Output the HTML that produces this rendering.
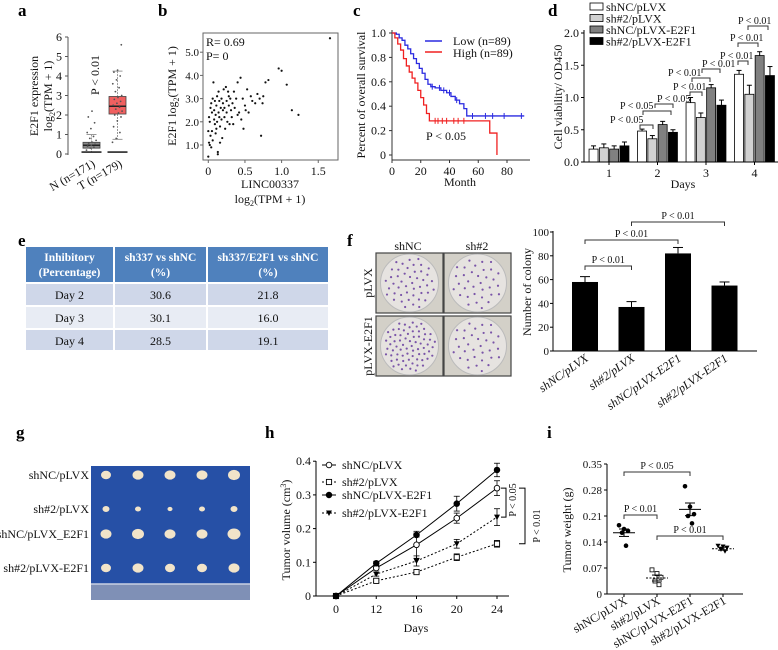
<!DOCTYPE html>
<html><head><meta charset="utf-8">
<style>
html,body{margin:0;padding:0;background:#fff;}
svg{display:block;font-family:"Liberation Serif",serif;}
.t{font-size:12px;fill:#111;}
.k{font-size:11px;fill:#111;}
.s{font-size:10px;fill:#111;}
.L{font-size:17px;font-weight:bold;fill:#000;}
</style></head>
<body>
<svg id="fig" width="778" height="650" viewBox="0 0 778 650"></svg>
<script>
// ---------- DATA ----------
const aTicks=[0,1,2,3,4,5,6];
const aNbox=[0.1,0.3,0.45,0.6,1.0];
const aTbox=[0.75,2.05,2.45,2.95,4.25];
const aNpts=[0.2,0.3,0.35,0.4,0.45,0.5,0.55,0.6,0.7,0.8,0.9,1.1,1.3,1.6,1.9,2.2];
const aTpts=[0.6,0.8,1.1,1.4,1.7,1.9,2.0,2.1,2.2,2.3,2.4,2.5,2.6,2.7,2.8,2.9,3.0,3.2,3.4,3.6,3.8,4.0,4.2,4.3,5.6];
const bTicksY=[1,2,3,4,5];
const bTicksX=[0,0.5,1.0,1.5];
const bX=[0.0,0.01,0.02,0.0,0.02,0.03,0.01,0.04,0.05,0.03,0.04,0.06,0.07,0.08,0.08,0.09,0.1,0.1,0.11,0.12,0.12,0.13,0.13,0.14,0.15,0.15,0.16,0.17,0.18,0.18,0.19,0.2,0.2,0.21,0.22,0.23,0.24,0.25,0.25,0.26,0.27,0.28,0.29,0.3,0.31,0.32,0.33,0.35,0.36,0.38,0.4,0.42,0.44,0.45,0.47,0.48,0.5,0.51,0.53,0.55,0.58,0.6,0.64,0.67,0.7,0.72,0.74,0.75,0.78,0.82,0.96,1.0,1.07,1.14,1.23,1.66,0.06,0.09,0.14,0.16,0.05,0.22,0.28,0.34,0.4,0.11];
const bY=[0.5,1.1,1.0,1.6,2.0,1.4,2.2,0.9,1.6,2.6,2.8,1.2,3.7,2.1,2.5,1.9,2.3,1.5,2.7,2.0,3.1,0.6,0.7,2.4,2.9,2.2,1.8,2.6,3.0,2.1,1.3,2.5,2.8,3.4,2.2,1.7,3.5,2.9,2.4,2.0,3.3,2.7,1.9,3.0,2.5,2.2,2.8,3.3,2.6,3.0,3.7,2.4,3.9,2.1,3.0,1.7,2.7,2.5,3.4,2.4,3.1,2.9,2.8,3.2,3.0,1.4,2.8,3.1,3.7,3.8,4.3,4.2,3.6,2.5,2.3,5.6,3.0,2.9,3.3,1.1,2.4,2.6,3.1,1.9,2.3,1.7];
const cTicksY=[0,0.2,0.4,0.6,0.8,1.0];
const cTicksX=[0,20,40,60,80];
const cLowT=[0,3,5,7,9,11,13,15,17,19,21,23,25,27,30,34,38,41,44,47,50,52,92];
const cLowS=[1,0.99,0.96,0.94,0.9,0.87,0.83,0.79,0.75,0.71,0.67,0.62,0.58,0.56,0.55,0.53,0.51,0.48,0.45,0.42,0.38,0.32,0.32];
const cHighT=[0,2,4,6,8,10,12,14,16,18,20,22,24,26,68,73];
const cHighS=[1,0.96,0.91,0.86,0.79,0.73,0.68,0.63,0.59,0.53,0.47,0.41,0.34,0.28,0.18,0];
const cLowCens=[28,33,36,40,45,56,65,70,78,90];
const cHighCens=[30,32,35,38,43,46,50];
const dDays=["1","2","3","4"];
const dSeries=["shNC/pLVX","sh#2/pLVX","shNC/pLVX-E2F1","sh#2/pLVX-E2F1"];
const dVals=[[0.2,0.48,0.92,1.36],[0.22,0.36,0.69,1.05],[0.2,0.58,1.15,1.65],[0.25,0.46,0.88,1.34]];
const dErr=[[0.05,0.03,0.08,0.06],[0.06,0.05,0.07,0.14],[0.05,0.05,0.05,0.06],[0.06,0.04,0.08,0.14]];
const dTicks=[0,0.5,1.0,1.5,2.0];
const fCats=["shNC/pLVX","sh#2/pLVX","shNC/pLVX-E2F1","sh#2/pLVX-E2F1"];
const fVals=[58,37,82,55];
const fErr=[4.5,4.5,5,3];
const fTicks=[0,20,40,60,80,100];
const hDays=["0","12","16","20","24"];
const hSeries=["shNC/pLVX","sh#2/pLVX","shNC/pLVX-E2F1","sh#2/pLVX-E2F1"];
const hVals=[[0,0.083,0.152,0.231,0.320],[0,0.045,0.071,0.115,0.155],[0,0.097,0.181,0.274,0.374],[0,0.065,0.104,0.155,0.234]];
const hErr=[[0,0.006,0.04,0.015,0.022],[0,0.005,0.006,0.01,0.01],[0,0.006,0.006,0.022,0.02],[0,0.006,0.015,0.013,0.025]];
const hTicks=[0,0.1,0.2,0.3,0.4];
const iCats=["shNC/pLVX","sh#2/pLVX","shNC/pLVX-E2F1","sh#2/pLVX-E2F1"];
const iPts=[[0.185,0.175,0.17,0.165,0.13],[0.065,0.055,0.045,0.035,0.025],[0.29,0.235,0.215,0.21,0.19],[0.13,0.128,0.125,0.12,0.115]];
const iMean=[0.165,0.043,0.228,0.122];
const iSem=[0.01,0.008,0.017,0.004];
const iTicks=["0","0.07","0.14","0.21","0.28","0.35"];
const tblHead=["Inhibitory|(Percentage)","sh337 vs shNC|(%)","sh337/E2F1 vs shNC|(%)"];
const tblRows=[["Day 2","30.6","21.8"],["Day 3","30.1","16.0"],["Day 4","28.5","19.1"]];

// ---------- HELPERS ----------
const S=document.getElementById('fig');
const NS='http://www.w3.org/2000/svg';
function mk(tag,parent){const e=document.createElementNS(NS,tag);(parent||S).appendChild(e);return e;}
function set(e,o){for(const k in o)e.setAttribute(k,o[k]);return e;}
function line(p,x1,y1,x2,y2,st,w,dash){const e=mk('line',p);set(e,{x1:x1,y1:y1,x2:x2,y2:y2,stroke:st||'#000','stroke-width':w||1});if(dash)e.setAttribute('stroke-dasharray',dash);return e;}
function txt(p,x,y,s,cls,anchor,rot){const e=mk('text',p);set(e,{x:x,y:y,'text-anchor':anchor||'start'});e.setAttribute('class',cls||'t');if(rot!==undefined)e.setAttribute('transform','rotate('+rot+' '+x+' '+y+')');e.textContent=s;return e;}
function grp(){return mk('g');}
function bracket(p,x1,x2,y,h){const e=mk('path',p);set(e,{d:'M'+x1+' '+(y+h)+'V'+y+'H'+x2+'V'+(y+h),fill:'none',stroke:'#333','stroke-width':1});return e;}

[['a',18,16],['b',158,16],['c',353,16],['d',548,16],['e',18,246],['f',347,246],['g',16,438],['h',265,438],['i',547,438]].forEach(l=>{
 const t=txt(S,l[1],l[2],l[0],'L');
 
 
});

// ---------- PANEL A ----------
(function(){
 const g=grp();
 const ya=v=>154-v*19.5;
 line(g,68,ya(6),68,ya(0)+1,'#555');
 aTicks.forEach(v=>{line(g,65,ya(v),68,ya(v),'#555');const t=txt(g,62,ya(v)+4,String(v),'t','end');});
 const yl=txt(g,38,96,'E2F1 expression','t','middle',-90);
 const yl2=mk('text',g);set(yl2,{x:52,y:96,'text-anchor':'middle',transform:'rotate(-90 52 96)'});yl2.setAttribute('class','t');yl2.innerHTML='log<tspan font-size="8" dy="3">2</tspan><tspan dy="-3">(TPM + 1)</tspan>';
 
 function box(cx,b,fill,pts,name){
  const bg=mk('g',g);
  line(bg,cx,ya(b[4]),cx,ya(b[3]),'#999',1,'2,1');line(bg,cx,ya(b[1]),cx,ya(b[0]),'#999',1,'2,1');
  line(bg,cx-5,ya(b[4]),cx+5,ya(b[4]),'#999');line(bg,cx-5,ya(b[0]),cx+5,ya(b[0]),'#999');
  const r=mk('rect',bg);set(r,{x:cx-8.5,y:ya(b[3]),width:17,height:ya(b[1])-ya(b[3]),fill:fill,stroke:'#444','stroke-width':0.8});
  line(bg,cx-8.5,ya(b[2]),cx+8.5,ya(b[2]),'#222',1.5);
  line(bg,cx-10,ya(0.1),cx+10,ya(0.1),'#000',1.3);
  pts.forEach((v,i)=>{const c=mk('circle',bg);set(c,{cx:cx-5+(i*3.7)%10,cy:ya(v),r:0.9,fill:'#555'});});
 }
 box(91.5,aNbox,'#888',aNpts,'box-normal');
 box(117.5,aTbox,'#f06060',aTpts,'box-tumor');
 const p=txt(g,99,75,'P < 0.01','t','middle',-90);
 const n1=txt(g,96,166,'N (n=171)','t','end',-30);
 const n2=txt(g,123,166,'T (n=179)','t','end',-30);
})();

// ---------- PANEL B ----------
(function(){
 const g=grp();
 const xb=v=>208.3+v*73.3, yb=v=>168.2-v*23.2;
 const r=mk('rect',g);set(r,{x:203,y:33,width:135,height:127,fill:'none',stroke:'#666','stroke-width':1});
 bTicksY.forEach(v=>{line(g,200,yb(v),203,yb(v),'#666');const t=txt(g,199,yb(v)+4,v.toFixed(1),'k','end');});
 bTicksX.forEach(v=>{line(g,xb(v),160,xb(v),163,'#666');const t=txt(g,xb(v),175,v===0?'0':v.toFixed(1),'t','middle');});
 bX.forEach((x,i)=>{const c=mk('circle',g);set(c,{cx:xb(x),cy:yb(bY[i]),r:1.1,fill:'#111'});});
 const a1=txt(g,206,46,'R= 0.69');
 const a2=txt(g,206,60,'P= 0');
 const xt=txt(g,270,188,'LINC00337','t','middle');
 const xt2=mk('text',g);set(xt2,{x:270,y:203,'text-anchor':'middle'});xt2.setAttribute('class','t');xt2.innerHTML='log<tspan font-size="8" dy="3">2</tspan><tspan dy="-3">(TPM + 1)</tspan>';
 
 const yt=mk('text',g);set(yt,{x:176,y:96,'text-anchor':'middle',transform:'rotate(-90 176 96)'});yt.setAttribute('class','t');yt.innerHTML='E2F1 log<tspan font-size="8" dy="3">2</tspan><tspan dy="-3">(TPM + 1)</tspan>';
 
})();

// ---------- PANEL C ----------
(function(){
 const g=grp();
 const xc=t=>392+t*1.4375, yc=s=>155-s*122;
 line(g,392,30,392,160,'#333');line(g,392,160,530,160,'#333');
 cTicksY.forEach(v=>{line(g,389,yc(v),392,yc(v),'#333');const t=txt(g,386,yc(v)+4,v===0?'0':v.toFixed(1),'t','end');});
 cTicksX.forEach(v=>{line(g,xc(v),160,xc(v),163,'#333');const t=txt(g,xc(v),175,String(v),'t','middle');});
 function km(T,Sv,col,cens,name){
  let d='M'+xc(T[0])+' '+yc(Sv[0]);
  for(let i=1;i<T.length;i++){d+='H'+xc(T[i])+'V'+yc(Sv[i]);}
  const p=mk('path',g);set(p,{d:d,fill:'none',stroke:col,'stroke-width':1.3});
  
  cens.forEach(t=>{let s=Sv[0];for(let i=0;i<T.length;i++){if(T[i]<=t)s=Sv[i];}
   const c=line(g,xc(t),yc(s)-3,xc(t),yc(s)+3,col,1);});
 }
 km(cLowT,cLowS,'#2a2ae0',cLowCens,'curve-low');
 km(cHighT,cHighS,'#f02020',cHighCens,'curve-high');
 line(g,425,41,442,41,'#2a2ae0',1.6);line(g,425,52,442,52,'#f02020',1.6);
 const l1=txt(g,453,45,'Low (n=89)');
 const l2=txt(g,453,57,'High (n=89)');
 const pv=txt(g,426,140,'P < 0.05');
 const xt=txt(g,460,186,'Month','t','middle');
 const yt=txt(g,365,95,'Percent of overall survival','t','middle',-90);
})();

// ---------- PANEL D ----------
(function(){
 const g=grp();
 const yd=v=>162-v*64.5, dx=i=>609+i*48.5;
 const fills=['#fff','#d2d2d2','#808080','#000'];
 const bw=9, gap=1.3;
 dDays.forEach((dname,di)=>{
  dSeries.forEach((s,si)=>{
   const x=dx(di)-(2*bw+1.5*gap)+si*(bw+gap);
   const v=dVals[si][di], e=dErr[si][di];
   line(g,x+bw/2,yd(v),x+bw/2,yd(v+e),'#000',1);line(g,x+bw/2-2.5,yd(v+e),x+bw/2+2.5,yd(v+e),'#000',1);
   const r=mk('rect',g);set(r,{x:x,y:yd(v),width:bw,height:yd(0)-yd(v),fill:fills[si],stroke:'#000','stroke-width':0.8});
   
  });
  line(g,dx(di),162,dx(di),165,'#000');
  const t=txt(g,dx(di),177,dname,'t','middle');
 });
 line(g,584,30,584,162,'#000');line(g,584,162,778,162,'#000');
 dTicks.forEach(v=>{line(g,581,yd(v),584,yd(v),'#000');const t=txt(g,579,yd(v)+4,v.toFixed(1),'t','end');});
 const yt=txt(g,562,97,'Cell viability/ OD450','t','middle',-90);
 const xt=txt(g,683,188,'Days','t','middle');
 dSeries.forEach((s,si)=>{const y=3+si*11.5;const r=mk('rect',g);set(r,{x:590,y:y,width:13,height:7,fill:fills[si],stroke:'#000','stroke-width':0.8});
  const t=txt(g,606,y+8,s);});
 const br=[[610,640,653,125],[620,643,671,111],[657,655,673,104],[673,690,702,92],[668,692,710,78],[702,702,720,69],[720,738,748,61],[730,738,758,43],[738,748,768,26]];
 br.forEach(b=>{const t=txt(g,b[0],b[3]-2,'P < '+(b[3]>100?'0.05':'0.01'),'s');
  const p=bracket(g,b[1],b[2],b[3],4);});
})();

// ---------- PANEL E (table) ----------
(function(){
 const g=grp();
 const cols=[25,114,207,329];
 const rowsY=[[247,282],[284,305],[307,328],[330,350]];
 const rowFill=['#4f81bd','#cfd7e9','#e8ecf4','#cfd7e9'];
 rowsY.forEach((ry,ri)=>{
  for(let c=0;c<3;c++){
   const r=mk('rect',g);set(r,{x:cols[c]+1,y:ry[0],width:cols[c+1]-cols[c]-2,height:ry[1]-ry[0],fill:rowFill[ri]});
   
   const cx=(cols[c]+cols[c+1])/2;
   if(ri===0){const parts=tblHead[c].split('|');
    const t1=txt(g,cx,261,parts[0],'t','middle');t1.setAttribute('style','fill:#fff;font-weight:bold;font-size:11.5px');
    const t2=txt(g,cx,276,parts[1],'t','middle');t2.setAttribute('style','fill:#fff;font-weight:bold;font-size:11.5px');
   } else {const t=txt(g,cx,ry[0]+15,tblRows[ri-1][c],'t','middle');}
  }
 });
})();

// ---------- PANEL F photos ----------
(function(){
 const g=grp();
 const dens=[46,34,70,34];
 [[376,253],[444,253],[376,316],[444,316]].forEach((p,k)=>{
  const r=mk('rect',g);set(r,{x:p[0],y:p[1],width:67,height:60,fill:'#d3d0c8',stroke:'#444','stroke-width':1.2});
  
  const c=mk('circle',g);set(c,{cx:p[0]+33.5,cy:p[1]+30,r:29,fill:'#e6e3e0',stroke:'#bbb'});
  for(let i=0;i<dens[k];i++){const a=i*2.39996,rr=26*Math.sqrt((i+0.5)/dens[k]);
   const d=mk('circle',g);set(d,{cx:p[0]+33.5+rr*Math.cos(a),cy:p[1]+30+rr*Math.sin(a),r:1.1,fill:'#7a55a8'});}
 });
 const a=txt(g,408,250,'shNC','t','middle');
 const b=txt(g,477,250,'sh#2','t','middle');
 const c=txt(g,372,283,'pLVX','t','middle',-90);
 const d=txt(g,372,346,'pLVX-E2F1','t','middle',-90);
})();

// ---------- PANEL F bar chart ----------
(function(){
 const g=grp();
 const yf=v=>351-v*1.19, xf=i=>585+i*46.5, bw=26;
 line(g,553,231,553,351,'#000');line(g,553,351,757,351,'#000');
 fTicks.forEach(v=>{line(g,550,yf(v),553,yf(v),'#000');const t=txt(g,549,yf(v)+4,String(v),'k','end');});
 fCats.forEach((c,i)=>{
  line(g,xf(i),yf(fVals[i]),xf(i),yf(fVals[i]+fErr[i]),'#000');line(g,xf(i)-5,yf(fVals[i]+fErr[i]),xf(i)+5,yf(fVals[i]+fErr[i]),'#000');
  const r=mk('rect',g);set(r,{x:xf(i)-bw/2,y:yf(fVals[i]),width:bw,height:yf(0)-yf(fVals[i]),fill:'#000'});
  
  const t=txt(g,xf(i)+4,360,c,'t','end',-35);t.setAttribute('style','font-style:italic');
 });
 const yt=txt(g,531,292,'Number of colony','t','middle',-90);
 [[0,1,266,'P < 0.01'],[0,2,240,'P < 0.01'],[1,3,222,'P < 0.01']].forEach(b=>{
  const p=bracket(g,xf(b[0]),xf(b[1]),b[2],4);
  const t=txt(g,(xf(b[0])+xf(b[1]))/2,b[2]-3,b[3],'s','middle');
 });
})();

// ---------- PANEL G photo ----------
(function(){
 const g=grp();
 const r=mk('rect',g);set(r,{x:91,y:466,width:159,height:134,fill:'#2650a6'});
 const ru=mk('rect',g);set(ru,{x:91,y:584,width:159,height:16,fill:'#7f90b6'});
 line(g,91,584,250,584,'#c8d0e2',1.5);
 const sizes=[[5,5.5,5.5,5.5,6],[3.5,3,2.5,3,3.5],[5.5,6,5.5,5.5,6.5],[5,5.5,5,5,5.5]];
 const rowsY=[475,509,534,568];
 sizes.forEach((row,ri)=>row.forEach((s,ci)=>{const e=mk('ellipse',g);set(e,{cx:106+ci*32,cy:rowsY[ri],rx:s,ry:s*0.85,fill:'#f2e4c9'});
  }));
 ['shNC/pLVX','sh#2/pLVX','shNC/pLVX_E2F1','sh#2/pLVX-E2F1'].forEach((l,i)=>{const t=txt(g,89,rowsY[i]+4,l,'t','end');});
})();

// ---------- PANEL H ----------
(function(){
 const g=grp();
 const xh=i=>336+i*40.25, yh=v=>596-v*337;
 line(g,316,461,316,596,'#000');line(g,316,596,509,596,'#000');
 hTicks.forEach(v=>{line(g,313,yh(v),316,yh(v),'#000');const t=txt(g,311,yh(v)+4,v===0?'0':String(v),'t','end');});
 hDays.forEach((d,i)=>{line(g,xh(i),596,xh(i),599,'#000');const t=txt(g,xh(i),613,d,'t','middle');});
 const dash=[null,'2,2',null,'2,2'];
 function marker(p,si,x,y){
  let m;
  if(si===0||si===2){m=mk('circle',p);set(m,{cx:x,cy:y,r:2.8,fill:si===2?'#000':'#fff',stroke:'#000','stroke-width':0.9});}
  else if(si===1){m=mk('rect',p);set(m,{x:x-2.6,y:y-2.6,width:5.2,height:5.2,fill:'#fff',stroke:'#000','stroke-width':0.9});}
  else {m=mk('path',p);set(m,{d:'M'+(x-3)+' '+(y-2.5)+'H'+(x+3)+'L'+x+' '+(y+3)+'Z',fill:'#000'});}
  return m;
 }
 hSeries.forEach((s,si)=>{
  const pts=hVals[si].map((v,i)=>xh(i)+','+yh(v)).join(' ');
  const pl=mk('polyline',g);set(pl,{points:pts,fill:'none',stroke:'#000','stroke-width':1});if(dash[si])pl.setAttribute('stroke-dasharray',dash[si]);
  
  hVals[si].forEach((v,i)=>{const e=hErr[si][i];if(e>0){line(g,xh(i),yh(v-e),xh(i),yh(v+e),'#000',0.8);line(g,xh(i)-3,yh(v+e),xh(i)+3,yh(v+e),'#000',0.8);line(g,xh(i)-3,yh(v-e),xh(i)+3,yh(v-e),'#000',0.8);}
   const m=marker(g,si,xh(i),yh(v));});
  const ly=[465,482,495,513][si];
  const ll=line(g,322,ly,336,ly,'#000',1);if(dash[si])ll.setAttribute('stroke-dasharray',dash[si]);
  marker(g,si,329,ly);
  const t=txt(g,342,ly+4,s);
 });
 const b1=mk('path',g);set(b1,{d:'M501 '+yh(0.32)+'H506V'+yh(0.234)+'H501',fill:'none',stroke:'#000'});
 const b2=mk('path',g);set(b2,{d:'M519 '+yh(0.32)+'H525V'+yh(0.155)+'H519',fill:'none',stroke:'#000'});
 const p1=txt(g,516,500,'P < 0.05','s','middle',-90);
 const p2=txt(g,540,526,'P < 0.01','s','middle',-90);
 const xt=txt(g,416,632,'Days','t','middle');
 const yt=mk('text',g);set(yt,{x:290,y:530,'text-anchor':'middle',transform:'rotate(-90 290 530)'});yt.setAttribute('class','t');yt.innerHTML='Tumor volume (cm<tspan font-size="8" dy="-4">3</tspan><tspan dy="4">)</tspan>';
 
})();

// ---------- PANEL I ----------
(function(){
 const g=grp();
 const yi=v=>594-v*371.4, xi=i=>624+i*33;
 line(g,607,464,607,594,'#000');line(g,607,594,743,594,'#000');
 iTicks.forEach(s=>{const v=parseFloat(s);line(g,604,yi(v),607,yi(v),'#000');const t=txt(g,602,yi(v)+4,s,'k','end');});
 iCats.forEach((c,i)=>{
  line(g,xi(i),594,xi(i),597,'#000');
  const t=txt(g,xi(i)+4,603,c,'t','end',-30);
  const off=[-5,0,4,-2,2];
  iPts[i].forEach((v,k)=>{let m;const x=xi(i)+off[k],y=yi(v);
   if(i===1){m=mk('rect',g);set(m,{x:x-2,y:y-2,width:4,height:4,fill:'#fff',stroke:'#000','stroke-width':0.8});}
   else if(i===3){m=mk('path',g);set(m,{d:'M'+(x-2.5)+' '+(y-2)+'H'+(x+2.5)+'L'+x+' '+(y+2.5)+'Z',fill:'#000'});}
   else{m=mk('circle',g);set(m,{cx:x,cy:y,r:2.3,fill:'#000'});}
   });
  const ml=line(g,xi(i)-11,yi(iMean[i]),xi(i)+11,yi(iMean[i]),'#000',1);if(i===1||i===3)ml.setAttribute('stroke-dasharray','2,1.5');
  
  line(g,xi(i),yi(iMean[i]-iSem[i]),xi(i),yi(iMean[i]+iSem[i]),'#000');
  line(g,xi(i)-5,yi(iMean[i]+iSem[i]),xi(i)+5,yi(iMean[i]+iSem[i]),'#000');line(g,xi(i)-5,yi(iMean[i]-iSem[i]),xi(i)+5,yi(iMean[i]-iSem[i]),'#000');
 });
 [[0,2,472,'P < 0.05'],[0,1,515,'P < 0.01'],[1,3,536,'P < 0.01']].forEach(b=>{
  const p=bracket(g,xi(b[0]),xi(b[1]),b[2],4);
  const t=txt(g,(xi(b[0])+xi(b[1]))/2,b[2]-3,b[3],'s','middle');
 });
 const yt=txt(g,571,530,'Tumor weight (g)','t','middle',-90);
})();
</script>
</body></html>
